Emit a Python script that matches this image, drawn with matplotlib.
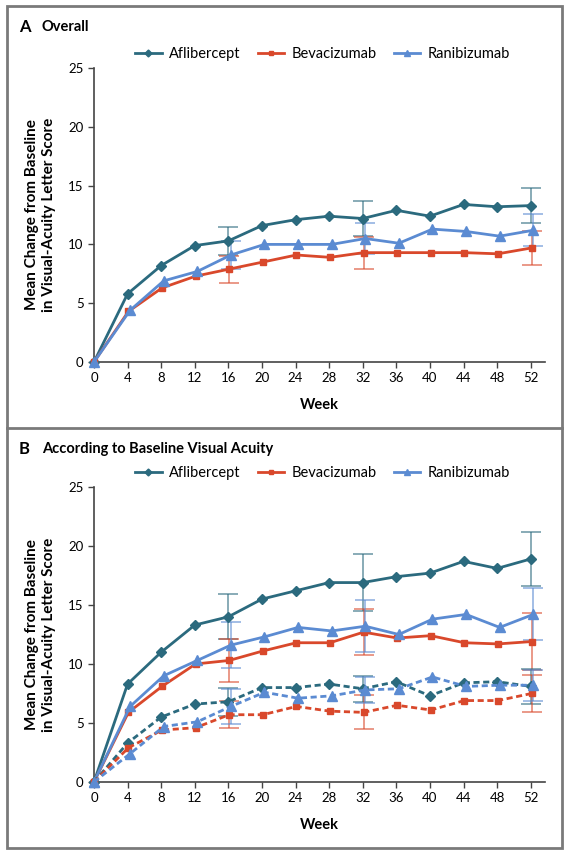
import matplotlib
matplotlib.use("Agg")
import matplotlib.pyplot as plt
from matplotlib.patches import Rectangle
from matplotlib.lines import Line2D

plt.rcParams['font.family'] = ['Lato', 'DejaVu Sans']

weeks = [0, 4, 8, 12, 16, 20, 24, 28, 32, 36, 40, 44, 48, 52]
err_weeks = [16, 32, 52]

# panel A - overall
afl_a = [0, 5.8, 8.2, 9.9, 10.3, 11.6, 12.1, 12.4, 12.2, 12.9, 12.4, 13.4, 13.2, 13.3]
bev_a = [0, 4.3, 6.3, 7.3, 7.9, 8.5, 9.1, 8.9, 9.3, 9.3, 9.3, 9.3, 9.2, 9.7]
ran_a = [0, 4.4, 6.9, 7.7, 9.1, 10.0, 10.0, 10.0, 10.5, 10.1, 11.3, 11.1, 10.7, 11.2]
afl_a_err = [1.2, 1.45, 1.5]
bev_a_err = [1.15, 1.35, 1.45]
ran_a_err = [1.15, 1.35, 1.35]

# panel B - solid lines
afl_b1 = [0, 8.3, 11.0, 13.3, 14.0, 15.5, 16.2, 16.9, 16.9, 17.4, 17.7, 18.7, 18.1, 18.9]
bev_b1 = [0, 5.9, 8.1, 10.0, 10.3, 11.1, 11.8, 11.8, 12.7, 12.2, 12.4, 11.8, 11.7, 11.9]
ran_b1 = [0, 6.4, 9.0, 10.3, 11.6, 12.3, 13.1, 12.8, 13.2, 12.5, 13.8, 14.2, 13.1, 14.2]
afl_b1_err = [1.9, 2.4, 2.25]
bev_b1_err = [1.85, 1.95, 2.4]
ran_b1_err = [1.95, 2.2, 2.2]

# panel B - dashed lines
afl_b2 = [0, 3.3, 5.5, 6.6, 6.8, 8.0, 8.0, 8.3, 7.9, 8.5, 7.3, 8.4, 8.5, 8.1]
bev_b2 = [0, 2.9, 4.4, 4.6, 5.7, 5.7, 6.4, 6.0, 5.9, 6.5, 6.1, 6.9, 6.9, 7.5]
ran_b2 = [0, 2.4, 4.7, 5.1, 6.4, 7.6, 7.1, 7.3, 7.8, 7.9, 8.9, 8.1, 8.2, 8.2]
afl_b2_err = [1.2, 1.1, 1.5]
bev_b2_err = [1.15, 1.45, 1.55]
ran_b2_err = [1.45, 1.1, 1.3]

names = ["Aflibercept", "Bevacizumab", "Ranibizumab"]
colors = ["#2b6a7e", "#d9482b", "#5b8bd2"]
markers = ["D", "s", "^"]
msizes = [5, 5, 6.5]
offsets = [0, 0.1, 0.3]


def draw_series(ax, vals, errs, i, ls):
    x = [w + offsets[i] if w > 0 else w for w in weeks]
    vals_e = [vals[weeks.index(w)] for w in err_weeks]
    ex = [w + offsets[i] for w in err_weeks]
    ax.errorbar(ex, vals_e, yerr=errs, fmt="none", ecolor=colors[i], alpha=0.65,
                elinewidth=1.2, capsize=7, capthick=1.2, zorder=2)
    ax.plot(x, vals, color=colors[i], lw=2, ls=ls, marker=markers[i],
            ms=msizes[i], clip_on=False, zorder=3)


def style_axes(ax):
    ax.set_xlim(0, 53.7)
    ax.set_ylim(0, 25)
    ax.set_xticks(weeks)
    ax.set_yticks([0, 5, 10, 15, 20, 25])
    for s in ["top", "right"]:
        ax.spines[s].set_visible(False)
    for s in ["left", "bottom"]:
        ax.spines[s].set_color("#444444")
        ax.spines[s].set_linewidth(1.2)
    ax.tick_params(direction="out", length=4, width=1, colors="#444444",
                   labelcolor="black", labelsize=9.5)
    ax.set_xlabel("Week", fontsize=10.5, fontweight="bold", labelpad=10)
    ax.set_ylabel("Mean Change from Baseline\nin Visual-Acuity Letter Score",
                  fontsize=11, fontweight="bold", labelpad=9, linespacing=1.25)
    handles = [Line2D([], [], color=colors[i], lw=2, marker=markers[i], ms=msizes[i] - 1.5)
               for i in range(3)]
    ax.legend(handles, names, loc="center", bbox_to_anchor=(0.507, 1.048), ncol=3,
              frameon=False, fontsize=10.5, handlelength=1.8, columnspacing=1.2,
              handletextpad=0.5, borderaxespad=0)


fig = plt.figure(figsize=(5.69, 8.52), dpi=100)

axA = fig.add_axes([0.1652, 0.5751, 0.7926, 0.3451])
for i, (v, e) in enumerate([(afl_a, afl_a_err), (bev_a, bev_a_err), (ran_a, ran_a_err)]):
    draw_series(axA, v, e, i, "-")
style_axes(axA)

axB = fig.add_axes([0.1652, 0.0822, 0.7926, 0.3462])
for i, (v, e) in enumerate([(afl_b1, afl_b1_err), (bev_b1, bev_b1_err), (ran_b1, ran_b1_err)]):
    draw_series(axB, v, e, i, "-")
for i, (v, e) in enumerate([(afl_b2, afl_b2_err), (bev_b2, bev_b2_err), (ran_b2, ran_b2_err)]):
    draw_series(axB, v, e, i, (0, (2.2, 1.3)))
style_axes(axB)

# frame and divider
fig.patches.append(Rectangle((7 / 569, 1 - 848 / 852), 555 / 569, 842 / 852,
                             transform=fig.transFigure, fill=False,
                             edgecolor="#7a7a7a", lw=2))
fig.add_artist(Line2D([7 / 569, 562 / 569], [1 - 428 / 852, 1 - 428 / 852],
                      transform=fig.transFigure, color="#7a7a7a", lw=2))

fig.text(19 / 569, 1 - 27 / 852, "A", fontsize=12, fontweight="bold", va="center")
fig.text(42 / 569, 1 - 27 / 852, "Overall", fontsize=10.5, fontweight="bold", va="center")
fig.text(19 / 569, 1 - 449 / 852, "B", fontsize=12, fontweight="bold", va="center")
fig.text(42 / 569, 1 - 449 / 852, "According to Baseline Visual Acuity", fontsize=10.5,
         fontweight="bold", va="center")

fig.savefig("out.png", dpi=100)
